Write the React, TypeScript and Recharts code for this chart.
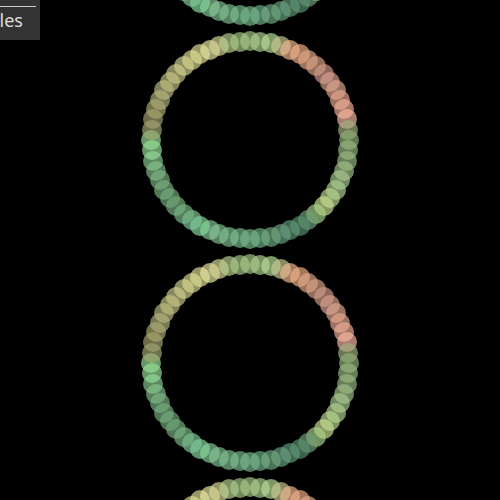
import React from "react";
import { ScatterChart, Scatter, XAxis, YAxis } from "recharts";

// one ring of dots, clockwise from 12 o'clock, offsets from the ring centre
const DX = [0, 10, 21, 31, 40, 50, 58, 66, 74, 80, 86, 90, 94, 97, 98, 99, 98, 97, 94, 90, 86, 80, 74, 66, 58, 50, 40, 31, 21, 10, 0, -10, -21, -31, -40, -50, -58, -66, -74, -80, -86, -90, -94, -97, -98, -99, -98, -97, -94, -90, -86, -80, -74, -66, -58, -50, -40, -31, -21, -10];
const DY = [99, 98, 97, 94, 90, 86, 80, 74, 66, 58, 50, 40, 31, 21, 10, 0, -10, -21, -31, -40, -50, -58, -66, -74, -80, -86, -90, -94, -97, -98, -99, -98, -97, -94, -90, -86, -80, -74, -66, -58, -50, -40, -31, -21, -10, 0, 10, 21, 31, 40, 50, 58, 66, 74, 80, 86, 90, 94, 97, 98];

// ring centres (same ring repeated down the page)
const RING_Y = [813, 590, 367, 144];

const COLORS = [
  "#a8c888", "#b0d090", "#b8e098", "#c8c890", "#f0b890", "#f0b088", "#e0a888", "#d8a088",
  "#d09888", "#d8a090", "#e0a890", "#e8a890", "#f0b098", "#f8b8a0", "#a0b080", "#90b078",
  "#98b880", "#98b880", "#a0c088", "#a8c890", "#b0d090", "#b8d890", "#c8e090", "#a8d088",
  "#70a078", "#5a9070", "#609878", "#68a080", "#70a880", "#70b088", "#78b88c", "#78b890",
  "#80c090", "#80c090", "#88c898", "#88d8a0", "#80c898", "#78b888", "#78b080", "#70a878",
  "#78b080", "#78b080", "#80b888", "#88c890", "#98e098", "#98e098", "#a0a870", "#a0a070",
  "#a8a870", "#b0b078", "#b8b880", "#c0c080", "#c8c888", "#d0d090", "#d8d890", "#e0e098",
  "#e8e8a0", "#d8d898", "#b8d090", "#a8c888",
];

const data = RING_Y.flatMap((cy) =>
  DX.map((dx, i) => ({ x: dx, y: cy + DY[i], k: i }))
);

function Dot(props: any) {
  const { cx, cy, payload } = props;
  return <circle cx={cx} cy={cy} r={10} fill={COLORS[payload.k]} fillOpacity={0.68} />;
}

export default function App() {
  return (
    <div
      style={{
        position: "fixed",
        left: 0,
        top: 0,
        width: 500,
        height: 500,
        overflow: "hidden",
        background: "#000",
      }}
    >
      <div style={{ position: "absolute", left: -60, top: -230 }}>
        <ScatterChart width={560} height={960} margin={{ top: 0, right: 0, bottom: 0, left: 0 }}>
          <XAxis type="number" dataKey="x" domain={[-250, 250]} hide />
          <YAxis
            type="number"
            dataKey="y"
            domain={[0, 960]}
            ticks={RING_Y}
            width={60}
            axisLine={false}
            tickLine={{ stroke: "#888" }}
            tick={{ fill: "#999", fontSize: 11 }}
          />
          <Scatter data={data} shape={Dot} isAnimationActive={false} />
        </ScatterChart>
      </div>
      <div
        style={{
          position: "absolute",
          left: -60,
          top: 0,
          width: 100,
          height: 40,
          background: "#333",
        }}
      >
        <div style={{ position: "absolute", left: 0, right: 4, top: 6, height: 1, background: "#ccc" }} />
        <div
          style={{
            position: "absolute",
            right: 17,
            top: 11,
            fontSize: 18,
            lineHeight: "18px",
            color: "#ddd",
            fontFamily: "Noto Sans",
            whiteSpace: "nowrap",
          }}
        >
          Circles
        </div>
      </div>
    </div>
  );
}
